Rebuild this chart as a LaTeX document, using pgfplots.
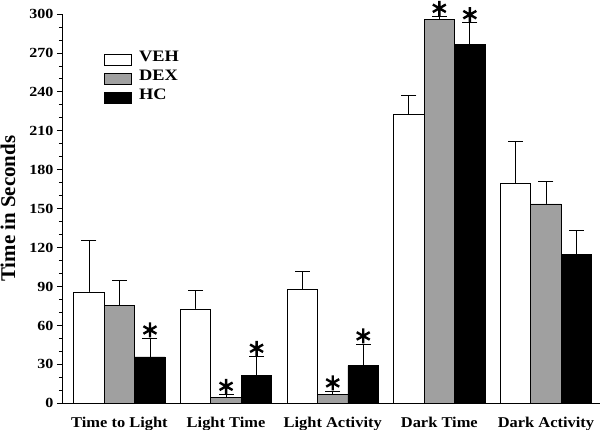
\documentclass[border=0pt]{standalone}
\usepackage{fontspec}
\setmainfont{Liberation Serif}
\newfontfamily\stretchfont[FakeStretch=1.15]{Liberation Serif}
\newfontfamily\tickfont[FakeStretch=1.15]{Liberation Serif}
\newfontfamily\xfont[FakeStretch=1.1]{Liberation Serif}
\usepackage{pgfplots}
\pgfplotsset{compat=1.18}
\definecolor{dexgray}{RGB}{160,160,160}
\pgfplotsset{
  boxlegend/.style={legend image code/.code={\draw[##1] (0bp,-5.5bp) rectangle (27bp,5.5bp);}},
  barstyle/.style={ybar, bar width=30.5bp, draw=black, line width=0.9bp},
  errstyle/.style={ycomb, black, line width=0.9bp, mark=-, mark size=7.5bp, forget plot},
}
\begin{document}
\begin{tikzpicture}
\useasboundingbox (0,0) rectangle (601bp,430bp);
\begin{axis}[
  at={(62bp,26.7bp)}, anchor=south west,
  scale only axis, width=538bp, height=389.3bp,
  xmin=-0.539, xmax=4.507, ymin=0, ymax=300,
  axis x line*=bottom, axis y line*=left,
  ytick={0,30,...,300}, minor y tick num=2,
  tick align=outside,
  major tick length=5bp, minor tick length=3bp,
  tick style={line width=0.8bp, black},
  xtick={0,1,2,3,4},
  xticklabels={Time to Light, Light Time, Light Activity, Dark Time, Dark Activity},
  x tick style={draw=none},
  xticklabel style={font=\xfont\bfseries\fontsize{15}{18}\selectfont, yshift=-5bp},
  yticklabel style={font=\tickfont\bfseries\fontsize{14}{16}\selectfont},
  /pgf/number format/assume math mode=true,
  ylabel={Time in Seconds},
  every axis y label/.style={at={(axis description cs:-0.1004,0.5)}, rotate=90, anchor=center,
     font=\bfseries\fontsize{21}{24}\selectfont},
  clip=false,
  axis line style={line width=0.9bp, black},
  legend style={draw=none, fill=none, at={(axis description cs:0.078,0.908)}, anchor=north west,
     font=\stretchfont\bfseries\fontsize{16}{19}\selectfont, inner sep=0pt, row sep=0pt,
     nodes={inner sep=0pt, text height=11bp, text depth=8bp}},
  legend cell align=left,
]
% error bars: vertical stem up to the top of each error bar, drawn first so the bars hide the lower part
\addplot[errstyle] coordinates {
  (-0.2861,125.8) (0.7139,87.3) (1.7139,101.8) (2.7139,237.3) (3.7139,202.0)
};
\addplot[errstyle] coordinates {
  (0,95.0) (1,6.9) (2,9.5) (3,298.2) (4,171.3)
};
\addplot[errstyle] coordinates {
  (0.2861,50.3) (1.2861,36.2) (2.2861,45.7) (3.2861,293.3) (4.2861,133.0)
};
\addplot[barstyle, fill=white, bar shift=-30.5bp, boxlegend] coordinates {
  (0,85.8) (1,72.7) (2,87.8) (3,222.7) (4,169.7)
};
\addplot[barstyle, fill=dexgray, bar shift=0bp, boxlegend] coordinates {
  (0,75.7) (1,4.6) (2,6.9) (3,295.9) (4,153.6)
};
\addplot[barstyle, fill=black, bar shift=30.5bp, boxlegend] coordinates {
  (0,35.7) (1,21.6) (2,29.0) (3,276.6) (4,114.8)
};
\legend{\kern7bp VEH, \kern7bp DEX, \kern7bp HC}
\addplot[only marks, mark=asterisk, mark size=7.5bp, line width=2.4bp, black, forget plot] coordinates {
  (1,13.1) (2,15.7) (3,304.4)
  (0.2861,56.5) (1.2861,42.4) (2.2861,51.9) (3.2861,299.5)
};
\end{axis}
\end{tikzpicture}
\end{document}
